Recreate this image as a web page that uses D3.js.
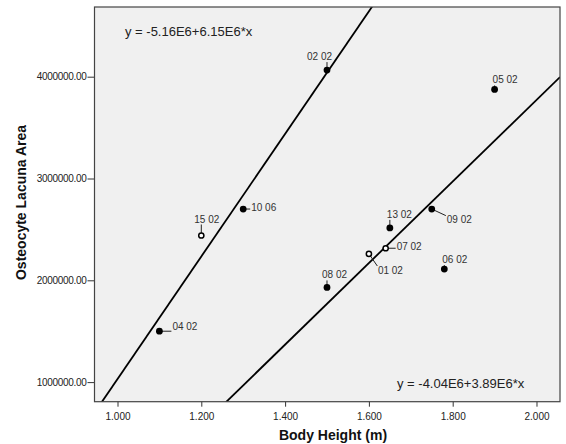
<!DOCTYPE html>
<html>
<head>
<meta charset="UTF-8">
<title></title>
<script src="https://d3js.org/d3.v7.min.js"></script>
<style>
  body { margin: 0; background: #fff; }
  text { font-family: "Liberation Sans", Arial, sans-serif; }
</style>
</head>
<body>
<div id="svg"></div>
<script>
// data
const ids     = ["04 02","15 02","10 06","02 02","05 02","09 02","13 02","07 02","01 02","06 02","08 02"];
const heights = [1.10, 1.20, 1.30, 1.50, 1.90, 1.75, 1.65, 1.64, 1.60, 1.78, 1.50];
const areas   = [1500000, 2440000, 2700000, 4065000, 3875000, 2700000, 2515000, 2315000, 2260000, 2110000, 1930000];
const hollow  = [false, true, false, false, false, false, false, true, true, false, false];
// fit lines as drawn in the picture (intercept, slope) and their printed equations
const fitIntercepts = [-4.99e6, -4.24e6];
const fitSlopes     = [6.02e6, 4.006e6];
const fitLabels     = ["y = -5.16E6+6.15E6*x", "y = -4.04E6+3.89E6*x"];
const xTicks = [1.0, 1.2, 1.4, 1.6, 1.8, 2.0];
const yTicks = [1000000, 2000000, 3000000, 4000000];

// label offsets (pixels, relative to point) - text start / baseline
const labelOffsets = [[13,-1],[-7,-13],[8,2],[-20,-10],[-2,-6],[15,14],[-3,-10],[11,2],[9,20],[-2,-6],[-5,-9]];

const width = 566, height = 444;
const padding = {top: 7, left: 94.5, right: 6, bottom: 42.3};

const svg = d3.select("#svg").append("svg").attr("width", width).attr("height", height);

const xScale = d3.scaleLinear().domain([0.9451, 2.0561]).range([padding.left, width - padding.right]);
const yScale = d3.scaleLinear().domain([807500, 4684700]).range([height - padding.bottom, padding.top]);

const plotW = width - padding.left - padding.right;
const plotH = height - padding.top - padding.bottom;

// plot background
svg.append("rect")
  .attr("x", padding.left).attr("y", padding.top)
  .attr("width", plotW).attr("height", plotH)
  .attr("fill", "#f0f0f0");

svg.append("clipPath").attr("id", "clip").append("rect")
  .attr("x", padding.left).attr("y", padding.top)
  .attr("width", plotW).attr("height", plotH);

// axes
const gx = svg.append("g").attr("transform", `translate(0,${height - padding.bottom})`)
  .call(d3.axisBottom(xScale).tickValues(xTicks).tickFormat(d3.format(".3f")).tickSize(5).tickPadding(6));
const gy = svg.append("g").attr("transform", `translate(${padding.left},0)`)
  .call(d3.axisLeft(yScale).tickValues(yTicks).tickFormat(d3.format(".2f")).tickSize(7).tickPadding(1));
[gx, gy].forEach(g => {
  g.select(".domain").remove();
  g.selectAll("line").attr("stroke", "#333");
  g.selectAll("text").attr("font-size", 10).attr("fill", "#222")
    .attr("font-family", "'Liberation Sans', Arial, sans-serif");
});
gy.selectAll("text").attr("letter-spacing", -0.3);

// fit lines
const xs = xScale.domain();
const line = d3.line().x(d => xScale(d[0])).y(d => yScale(d[1]));
svg.append("g").attr("clip-path", "url(#clip)")
  .selectAll("path").data(fitSlopes).join("path")
  .attr("d", (b, i) => line(xs.map(x => [x, fitIntercepts[i] + b * x])))
  .attr("stroke", "#000").attr("stroke-width", 1.8).attr("fill", "none");

// frame
svg.append("rect")
  .attr("x", padding.left).attr("y", padding.top)
  .attr("width", plotW).attr("height", plotH)
  .attr("fill", "none").attr("stroke", "#444").attr("stroke-width", 1.2);

// point labels with leader lines
const gl = svg.append("g");
ids.forEach((id, i) => {
  const px = xScale(heights[i]), py = yScale(areas[i]);
  const t = gl.append("text")
    .attr("x", px + labelOffsets[i][0]).attr("y", py + labelOffsets[i][1])
    .attr("font-size", 10).attr("fill", "#333").text(id);
  const bb = t.node().getBBox();
  const cx = Math.max(bb.x, Math.min(px, bb.x + bb.width));
  const cy = Math.max(bb.y + 2, Math.min(py, bb.y + bb.height - 1));
  const dx = cx - px, dy = cy - py, dist = Math.hypot(dx, dy);
  if (dist > 4) {
    gl.append("line")
      .attr("x1", px + dx / dist * 2).attr("y1", py + dy / dist * 2)
      .attr("x2", cx - dx / dist * 1).attr("y2", cy - dy / dist * 1)
      .attr("stroke", "#222").attr("stroke-width", 1);
  }
});

// points
svg.append("g").selectAll("circle").data(ids).join("circle")
  .attr("cx", (d, i) => xScale(heights[i]))
  .attr("cy", (d, i) => yScale(areas[i]))
  .attr("r", (d, i) => hollow[i] ? 2.6 : 3.4)
  .attr("fill", (d, i) => hollow[i] ? "#fff" : "#000")
  .attr("stroke", "#000")
  .attr("stroke-width", (d, i) => hollow[i] ? 1.5 : 0);

// equations
svg.append("text").attr("x", 125).attr("y", 36).attr("font-size", 13).attr("fill", "#222").text(fitLabels[0]);
svg.append("text").attr("x", 397).attr("y", 388).attr("font-size", 13).attr("fill", "#222").text(fitLabels[1]);

// axis titles
svg.append("text")
  .attr("x", 333).attr("y", 440)
  .attr("text-anchor", "middle").attr("font-size", 14).attr("font-weight", "bold").attr("fill", "#111")
  .text("Body Height (m)");
svg.append("text")
  .attr("transform", "translate(26,202.5) rotate(-90)")
  .attr("text-anchor", "middle").attr("font-size", 14).attr("font-weight", "bold").attr("fill", "#111")
  .text("Osteocyte Lacuna Area");
</script>
</body>
</html>
